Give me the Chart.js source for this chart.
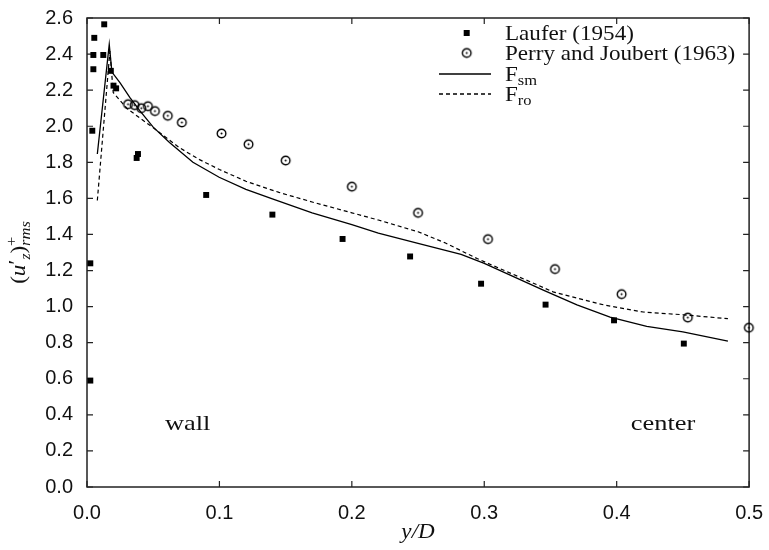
<!DOCTYPE html>
<html>
<head>
<meta charset="utf-8">
<title>u'z rms profile</title>
<script src="https://cdn.jsdelivr.net/npm/chart.js@4.4.1/dist/chart.umd.min.js"></script>
<style>
    body { margin: 0; background: #fff; }
    #profileChart { display: block; }
</style>
</head>
<body>
<canvas id="profileChart" width="769" height="550"></canvas>
<script>
// Laufer (1954) measurements
const lauferX = [0.0025, 0.0025, 0.004, 0.0048, 0.0048, 0.0055, 0.0123, 0.013, 0.018, 0.020, 0.022, 0.0375, 0.0385, 0.090, 0.140, 0.193, 0.244, 0.2976, 0.3463, 0.398, 0.4507];
const lauferY = [0.59, 1.24, 1.975, 2.395, 2.316, 2.49, 2.395, 2.565, 2.307, 2.225, 2.21, 1.824, 1.846, 1.619, 1.51, 1.375, 1.278, 1.127, 1.011, 0.924, 0.795];

// Perry and Joubert (1963) measurements
const perryX = [0.031, 0.036, 0.041, 0.046, 0.0513, 0.061, 0.0716, 0.1016, 0.122, 0.15, 0.2, 0.25, 0.3028, 0.3534, 0.4037, 0.4537, 0.4998];
const perryY = [2.122, 2.117, 2.10, 2.111, 2.084, 2.058, 2.021, 1.96, 1.90, 1.81, 1.665, 1.52, 1.374, 1.208, 1.069, 0.939, 0.883];

// F_sm model curve
const smX = [0.0078, 0.0168, 0.0188, 0.025, 0.0323, 0.04, 0.05, 0.0623, 0.08, 0.0998, 0.12, 0.14, 0.17, 0.2, 0.22, 0.25, 0.2825, 0.3, 0.345, 0.37, 0.395, 0.4227, 0.45, 0.484];
const smY = [1.846, 2.454, 2.30, 2.24, 2.16, 2.085, 1.995, 1.91, 1.80, 1.717, 1.65, 1.597, 1.52, 1.455, 1.407, 1.35, 1.29, 1.24, 1.09, 1.01, 0.942, 0.89, 0.86, 0.809];

// F_ro model curve
const roX = [0.0078, 0.0173, 0.0198, 0.03, 0.04, 0.0498, 0.07, 0.085, 0.1, 0.12, 0.145, 0.17, 0.2, 0.22, 0.25, 0.27, 0.295, 0.3526, 0.39, 0.42, 0.45, 0.484];
const roY = [1.588, 2.417, 2.187, 2.10, 2.045, 1.993, 1.88, 1.815, 1.76, 1.695, 1.633, 1.58, 1.52, 1.48, 1.415, 1.355, 1.265, 1.08, 1.01, 0.97, 0.955, 0.933];

// Axis ticks
const xTicks = [0.0, 0.1, 0.2, 0.3, 0.4, 0.5];
const yTicks = [0.0, 0.2, 0.4, 0.6, 0.8, 1.0, 1.2, 1.4, 1.6, 1.8, 2.0, 2.2, 2.4, 2.6];

// Region notes (text, x, y in data units)
const notes = [
    { text: 'wall', x: 0.076, y: 0.355 },
    { text: 'center', x: 0.435, y: 0.355 }
];

const SERIF = '"Liberation Serif", "DejaVu Serif", serif';
const SANS = '"Liberation Sans", Arial, sans-serif';
const INK = '#111';
const STRETCH = 1.1; // serif text in the figure is a bit wider than Times

const toPoints = (xs, ys) => xs.map((x, i) => ({ x, y: ys[i] }));

// Open circle with a centre dot, used as point style
const makeDotCircle = () => {
    const c = document.createElement('canvas');
    c.width = 13;
    c.height = 13;
    const g = c.getContext('2d');
    g.strokeStyle = '#000';
    g.lineWidth = 1.4;
    g.beginPath();
    g.arc(6.5, 6.5, 4.3, 0, Math.PI * 2);
    g.stroke();
    g.fillStyle = '#000';
    g.beginPath();
    g.arc(6.5, 6.5, 1, 0, Math.PI * 2);
    g.fill();
    return c;
};
const dotCircle = makeDotCircle();

// Width of a run of text pieces
const measureRich = (ctx, parts) => {
    let w = 0;
    parts.forEach(p => {
        if (p.stack) {
            const ws = p.stack.map(s => { ctx.font = s.font; return ctx.measureText(s.text).width; });
            w += Math.max(...ws);
        } else {
            ctx.font = p.font;
            w += ctx.measureText(p.text).width;
        }
    });
    return w;
};

// Draw a run of text pieces (font, offset) along one baseline, stretched sideways
const drawRich = (ctx, parts, x, y, stretch = STRETCH) => {
    ctx.save();
    ctx.translate(x, y);
    ctx.scale(stretch, 1);
    let cx = 0;
    parts.forEach(p => {
        if (p.stack) {
            // sup / sub pair on top of each other
            const ws = p.stack.map(s => {
                ctx.font = s.font;
                ctx.fillText(s.text, cx, s.dy);
                return ctx.measureText(s.text).width;
            });
            cx += Math.max(...ws);
        } else {
            ctx.font = p.font;
            ctx.fillText(p.text, cx, p.dy || 0);
            cx += ctx.measureText(p.text).width;
        }
    });
    ctx.restore();
    return cx * stretch;
};

// Frame, inward ticks, titles, legend and notes
const decorPlugin = {
    id: 'decor',
    beforeDatasetsDraw(chart) {
        const { ctx, chartArea: a, scales: { x, y } } = chart;
        const len = 6;
        ctx.save();
        ctx.strokeStyle = '#222';
        ctx.lineWidth = 1.5;
        ctx.strokeRect(a.left, a.top, a.right - a.left, a.bottom - a.top);
        ctx.lineWidth = 1.2;
        ctx.beginPath();
        x.ticks.forEach(t => {
            const px = x.getPixelForValue(t.value);
            ctx.moveTo(px, a.bottom);
            ctx.lineTo(px, a.bottom - len);
            ctx.moveTo(px, a.top);
            ctx.lineTo(px, a.top + len);
        });
        y.ticks.forEach(t => {
            const py = y.getPixelForValue(t.value);
            ctx.moveTo(a.left, py);
            ctx.lineTo(a.left + len, py);
            ctx.moveTo(a.right, py);
            ctx.lineTo(a.right - len, py);
        });
        ctx.stroke();
        ctx.restore();
    },
    afterDraw(chart) {
        const { ctx, chartArea: a, scales: { x, y } } = chart;
        ctx.save();
        ctx.fillStyle = INK;
        ctx.textBaseline = 'alphabetic';
        ctx.textAlign = 'left';

        // x axis title
        const xt = [{ text: 'y/D', font: `italic 21px ${SERIF}` }];
        drawRich(ctx, xt, (a.left + a.right) / 2 - measureRich(ctx, xt) * STRETCH / 2, 538);

        // y axis title, rotated
        const yt = [
            { text: '(', font: `21px ${SERIF}` },
            { text: 'u', font: `italic 21px ${SERIF}` },
            { text: '\u2032', font: `21px ${SERIF}`, dy: -2 },
            { text: 'z', font: `italic 14px ${SERIF}`, dy: 5 },
            { text: ')', font: `21px ${SERIF}` },
            { stack: [
                { text: '+', font: `15px ${SERIF}`, dy: -9 },
                { text: 'rms', font: `italic 15px ${SERIF}`, dy: 5 }
            ] }
        ];
        ctx.save();
        ctx.translate(25, (a.top + a.bottom) / 2);
        ctx.rotate(-Math.PI / 2);
        drawRich(ctx, yt, -measureRich(ctx, yt) * STRETCH / 2, 0);
        ctx.restore();

        // notes inside the plot
        notes.forEach(n => {
            const parts = [{ text: n.text, font: `22px ${SERIF}` }];
            const w = measureRich(ctx, parts) * 1.2;
            drawRich(ctx, parts, x.getPixelForValue(n.x) - w / 2, y.getPixelForValue(n.y) + 7, 1.2);
        });

        // legend
        const lx = 466.7, tx = 505;
        const rows = [33, 53, 74, 94];
        ctx.fillStyle = '#000';
        ctx.fillRect(lx - 3, rows[0] - 3, 6, 6);
        ctx.drawImage(dotCircle, lx - 6.5, rows[1] - 6.5);
        ctx.strokeStyle = '#000';
        ctx.lineWidth = 1.3;
        ctx.beginPath();
        ctx.moveTo(439, rows[2]);
        ctx.lineTo(491, rows[2]);
        ctx.stroke();
        ctx.setLineDash([4, 3]);
        ctx.beginPath();
        ctx.moveTo(439, rows[3]);
        ctx.lineTo(491, rows[3]);
        ctx.stroke();
        ctx.setLineDash([]);

        ctx.fillStyle = INK;
        drawRich(ctx, [{ text: 'Laufer (1954)', font: `21px ${SERIF}` }], tx, rows[0] + 7);
        drawRich(ctx, [{ text: 'Perry and Joubert (1963)', font: `21px ${SERIF}` }], tx, rows[1] + 7);
        drawRich(ctx, [
            { text: 'F', font: `21px ${SERIF}` },
            { text: 'sm', font: `15px ${SERIF}`, dy: 4 }
        ], tx, rows[2] + 7);
        drawRich(ctx, [
            { text: 'F', font: `21px ${SERIF}` },
            { text: 'ro', font: `15px ${SERIF}`, dy: 4 }
        ], tx, rows[3] + 7);
        ctx.restore();
    }
};

const init = () => {
    const ctx = document.querySelector('#profileChart');
    new Chart(ctx, {
        type: 'scatter',
        data: {
            datasets: [
                {
                    label: 'Laufer (1954)',
                    data: toPoints(lauferX, lauferY),
                    pointStyle: 'rect',
                    pointRadius: 4.2,
                    backgroundColor: '#000',
                    borderColor: '#000',
                    borderWidth: 0,
                    clip: false
                },
                {
                    label: 'Perry and Joubert (1963)',
                    data: toPoints(perryX, perryY),
                    pointStyle: dotCircle,
                    clip: false
                },
                {
                    label: 'F_sm',
                    data: toPoints(smX, smY),
                    showLine: true,
                    pointRadius: 0,
                    borderColor: '#000',
                    borderWidth: 1.3,
                    tension: 0
                },
                {
                    label: 'F_ro',
                    data: toPoints(roX, roY),
                    showLine: true,
                    pointRadius: 0,
                    borderColor: '#000',
                    borderWidth: 1.2,
                    borderDash: [4, 3],
                    tension: 0
                }
            ]
        },
        options: {
            responsive: false,
            animation: false,
            devicePixelRatio: 1,
            layout: { padding: { left: 0, right: 16, top: 17, bottom: 0 } },
            plugins: {
                legend: { display: false },
                tooltip: { enabled: false }
            },
            scales: {
                x: {
                    type: 'linear',
                    min: 0,
                    max: 0.5,
                    afterBuildTicks: (s) => { s.ticks = xTicks.map(v => ({ value: v })); },
                    afterFit: (s) => { s.height = 63; },
                    grid: { display: false },
                    border: { display: false },
                    ticks: {
                        padding: 6,
                        color: INK,
                        font: { family: SANS, size: 20 },
                        callback: (v) => Number(v).toFixed(1)
                    }
                },
                y: {
                    type: 'linear',
                    min: 0,
                    max: 2.6,
                    afterBuildTicks: (s) => { s.ticks = yTicks.map(v => ({ value: v })); },
                    afterFit: (s) => { s.width = 87; },
                    grid: { display: false },
                    border: { display: false },
                    ticks: {
                        padding: 6,
                        color: INK,
                        font: { family: SANS, size: 20 },
                        callback: (v) => Number(v).toFixed(1)
                    }
                }
            }
        },
        plugins: [decorPlugin]
    });
};

if (document.readyState === 'loading') {
    document.addEventListener('DOMContentLoaded', init);
} else {
    init();
}
</script>
</body>
</html>
